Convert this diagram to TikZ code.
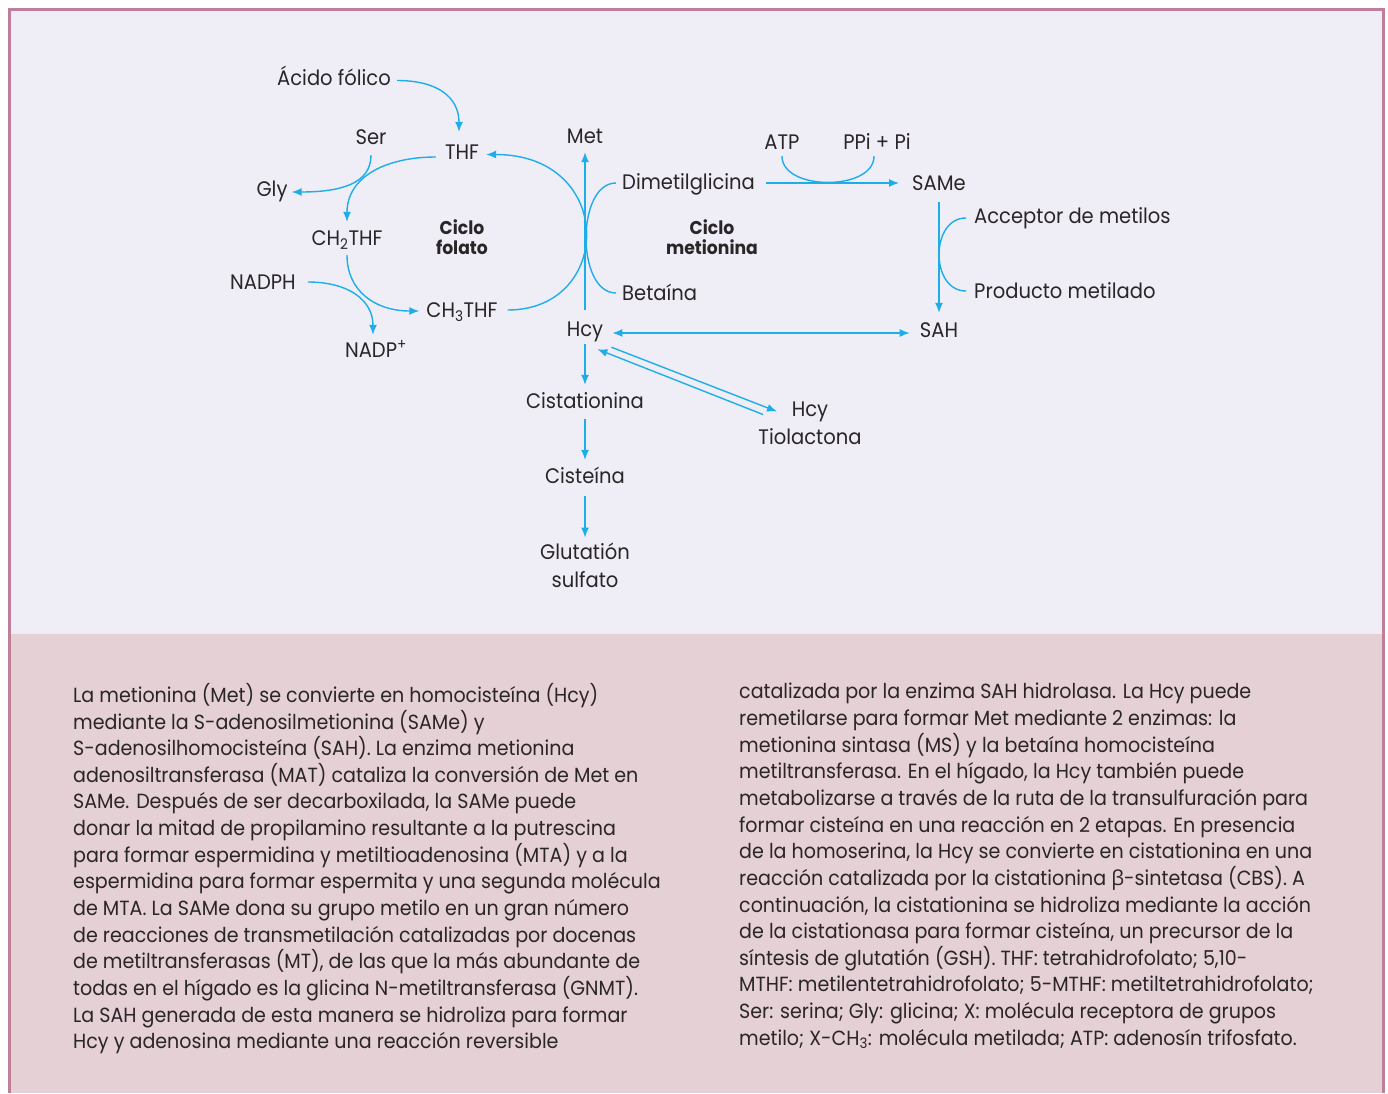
\documentclass[tikz,border=0pt]{standalone}
\usepackage{fontspec}
\setmainfont{Poppins}[FakeStretch=0.93]
\newfontfamily\greekfont{Open Sans}
\usetikzlibrary{positioning}
\usetikzlibrary{arrows.meta}
\definecolor{inkgrey}{HTML}{2A2527}
\definecolor{flowcyan}{HTML}{1DAEEA}
\definecolor{panellav}{HTML}{EFEEF7}
\definecolor{panelrose}{HTML}{E5D0D6}
\definecolor{framemauve}{HTML}{C07F99}

\begin{document}
\begin{tikzpicture}[x=1pt,y=-1pt,
  chem/.style={font=\fontsize{21}{28}\selectfont,text=inkgrey,inner sep=0pt,text height=15pt,text depth=5pt},
  chemtwo/.style={font=\fontsize{21}{28}\selectfont,text=inkgrey,inner sep=0pt,align=center},
  ciclo/.style={font=\fontsize{18.5}{20}\selectfont\bfseries,text=inkgrey,inner sep=0pt,align=center},
  body/.style={font=\fontsize{20.5}{26.65}\selectfont,text=inkgrey,inner sep=0pt,align=left,anchor=north west},
  flow/.style={draw=flowcyan,line width=1.4pt,-{Latex[length=10pt,width=8pt]}},
  link/.style={draw=flowcyan,line width=1.4pt}]

  \useasboundingbox (0,0) rectangle (1388,1093);

  % Hintergrund
  \fill[panellav]  (9.5,9.5) rectangle (1383.5,634);
  \fill[panelrose] (9.5,634) rectangle (1383.5,1093);
  \draw[framemauve,line width=3pt] (9.5,1093) -- (9.5,9.5) -- (1383.5,9.5) -- (1383.5,1093);

  % Ciclo folato
  \node[chem] (THF)    at (462,154.5) {THF};
  \node[chem] (Acido)  [above left=74pt and 128pt of THF.center,anchor=center] {Ácido fólico};
  \node[chem] (Ser)    [above left=15pt and 91pt of THF.center,anchor=center] {Ser};
  \node[chem] (Gly)    [below left=37pt and 190pt of THF.center,anchor=center] {Gly};
  \node[chem] (CHTHF)  [below left=86pt and 115pt of THF.center,anchor=center] {CH\textsubscript{2}THF};
  \node[chem] (CHHTHF) [below=158pt of THF.center,anchor=center] {CH\textsubscript{3}THF};
  \node[chem] (NADPH)  [above left=28pt and 199pt of CHHTHF.center,anchor=center] {NADPH};
  \node[chem] (NADP)   [below left=40pt and 86pt of CHHTHF.center,anchor=center] {NADP\textsuperscript{+}};
  \node[ciclo] (cicloF) [below=82.5pt of THF.center,anchor=center] {Ciclo\\folato};

  % Ciclo metionina
  \node[chem] (Met)    at (585,138.5) {Met};
  \node[chem] (Hcy)    [below=193pt of Met.center,anchor=center] {Hcy};
  \node[chem] (Dimet)  [below right=46pt and 37pt of Met.center,anchor=west] {Dimetilglicina};
  \node[chem] (Betaina)[below=111pt of Dimet.west,anchor=west] {Betaína};
  \node[ciclo] (cicloM) [right=127pt of Met.center,anchor=center,yshift=-98.5pt] {Ciclo\\metionina};
  \node[chem] (SAMe)   at (939,185.5) {SAMe};
  \node[chem] (ATP)    [above left=41pt and 157pt of SAMe.center,anchor=center] {ATP};
  \node[chem] (PPi)    [right=95pt of ATP.center,anchor=center] {PPi + Pi};
  \node[chem] (Accep)  [below right=33pt and 35pt of SAMe.center,anchor=west] {Acceptor de metilos};
  \node[chem] (Prod)   [below=75pt of Accep.west,anchor=west] {Producto metilado};
  \node[chem] (SAH)    [below=147pt of SAMe.center,anchor=center] {SAH};

  % Transulfuracion
  \node[chem] (Cist)   [below=72pt of Hcy.center,anchor=center] {Cistationina};
  \node[chem] (Cisteina) [below=75pt of Cist.center,anchor=center] {Cisteína};
  \node[chemtwo] (Glut) [below=64pt of Cisteina.center,anchor=north] {Glutatión\\sulfato};
  \node[chemtwo] (HcyT) [below right=70pt and 225pt of Hcy.center,anchor=north] {Hcy\\Tiolactona};

  % Pfeile Folat
  \draw[flow] ([xshift=6pt]Acido.east) .. controls +(40,0) and +(0,-35) .. ([xshift=-3pt,yshift=12.5pt]THF.north);
  \draw[flow] ([xshift=-9pt,yshift=-2.5pt]THF.west) .. controls +(-50,0) and +(0,-45) .. ([yshift=8.5pt]CHTHF.north);
  \draw[flow] ([yshift=-5.5pt]Ser.south) .. controls +(0,28) and +(50,0) .. ([xshift=4pt,yshift=-0.5pt]Gly.east);
  \draw[flow] ([yshift=-4.5pt]CHTHF.south) .. controls +(0,35) and +(-45,0) .. ([xshift=-7pt,yshift=1.5pt]CHHTHF.west);
  \draw[flow] ([xshift=12pt,yshift=2.5pt]NADPH.east) .. controls +(40,0) and +(0,-35) .. ([xshift=-3pt,yshift=7.5pt]NADP.north);
  \draw[flow] ([xshift=10pt,yshift=2.5pt]CHHTHF.east) .. controls +(106,0) and +(130,0) .. ([xshift=7pt]THF.east);

  % Pfeile Methionin
  \draw[link] ([xshift=-6pt,yshift=1.5pt]Dimet.west) .. controls +(-40,0) and +(-40,0) .. ([xshift=-6pt,yshift=2.5pt]Betaina.west);
  \draw[flow] ([yshift=11.5pt]Hcy.north) -- ([yshift=-3.5pt]Met.south);
  \draw[flow] ([xshift=11pt,yshift=1.5pt]Dimet.east) -- ([xshift=-13pt,yshift=2.5pt]SAMe.west);
  \draw[link] ([yshift=-1.5pt]ATP.south) .. controls +(0,35) and +(0,35) .. ([xshift=-3pt,yshift=-1.5pt]PPi.south);
  \draw[flow] ([yshift=-6.5pt]SAMe.south) -- ([yshift=9.5pt]SAH.north);
  \draw[link] ([xshift=-8pt,yshift=0.5pt]Accep.west) .. controls +(-36,0) and +(-36,0) .. ([xshift=-8pt,yshift=2.5pt]Prod.west);
  \draw[{Latex[length=10pt,width=8pt]}-{Latex[length=10pt,width=8pt]},draw=flowcyan,line width=1.4pt]
    ([xshift=9pt,yshift=-1.5pt]Hcy.east) -- ([xshift=-10pt,yshift=-0.5pt]SAH.west);
  \draw[flow] ([xshift=8pt,yshift=-5.5pt]Hcy.south east) -- ([xshift=-33pt,yshift=-10pt]HcyT.north);
  \draw[flow] ([xshift=-47pt,yshift=-13pt]HcyT.north) -- ([xshift=-6pt,yshift=-7.5pt]Hcy.south east);
  \draw[flow] ([yshift=-2.5pt]Hcy.south) -- ([yshift=8.5pt]Cist.north);
  \draw[flow] ([yshift=-5.5pt]Cist.south) -- ([yshift=8.5pt]Cisteina.north);
  \draw[flow] ([yshift=-7.5pt]Cisteina.south) -- ([yshift=5pt]Glut.north);

  % Legende
  \node[body] (textleft) at (73,683) {La metionina (Met) se convierte en homocisteína (Hcy)\\
    mediante la S-adenosilmetionina (SAMe) y\\
    S-adenosilhomocisteína (SAH). La enzima metionina\\
    adenosiltransferasa (MAT) cataliza la conversión de Met en\\
    SAMe. Después de ser decarboxilada, la SAMe puede\\
    donar la mitad de propilamino resultante a la putrescina\\
    para formar espermidina y metiltioadenosina (MTA) y a la\\
    espermidina para formar espermita y una segunda molécula\\
    de MTA. La SAMe dona su grupo metilo en un gran número\\
    de reacciones de transmetilación catalizadas por docenas\\
    de metiltransferasas (MT), de las que la más abundante de\\
    todas en el hígado es la glicina N-metiltransferasa (GNMT).\\
    La SAH generada de esta manera se hidroliza para formar\\
    Hcy y adenosina mediante una reacción reversible};
  \node[body] (textright) at (739,683) {catalizada por la enzima SAH hidrolasa. La Hcy puede\\
    remetilarse para formar Met mediante 2 enzimas: la\\
    metionina sintasa (MS) y la betaína homocisteína\\
    metiltransferasa. En el hígado, la Hcy también puede\\
    metabolizarse a través de la ruta de la transulfuración para\\
    formar cisteína en una reacción en 2 etapas. En presencia\\
    de la homoserina, la Hcy se convierte en cistationina en una\\
    reacción catalizada por la cistationina {\greekfont β}-sintetasa (CBS). A\\
    continuación, la cistationina se hidroliza mediante la acción\\
    de la cistationasa para formar cisteína, un precursor de la\\
    síntesis de glutatión (GSH). THF: tetrahidrofolato; 5,10-\\
    MTHF: metilentetrahidrofolato; 5-MTHF: metiltetrahidrofolato;\\
    Ser: serina; Gly: glicina; X: molécula receptora de grupos\\
    metilo; X-CH\textsubscript{3}: molécula metilada; ATP: adenosín trifosfato.};

\end{tikzpicture}
\end{document}
